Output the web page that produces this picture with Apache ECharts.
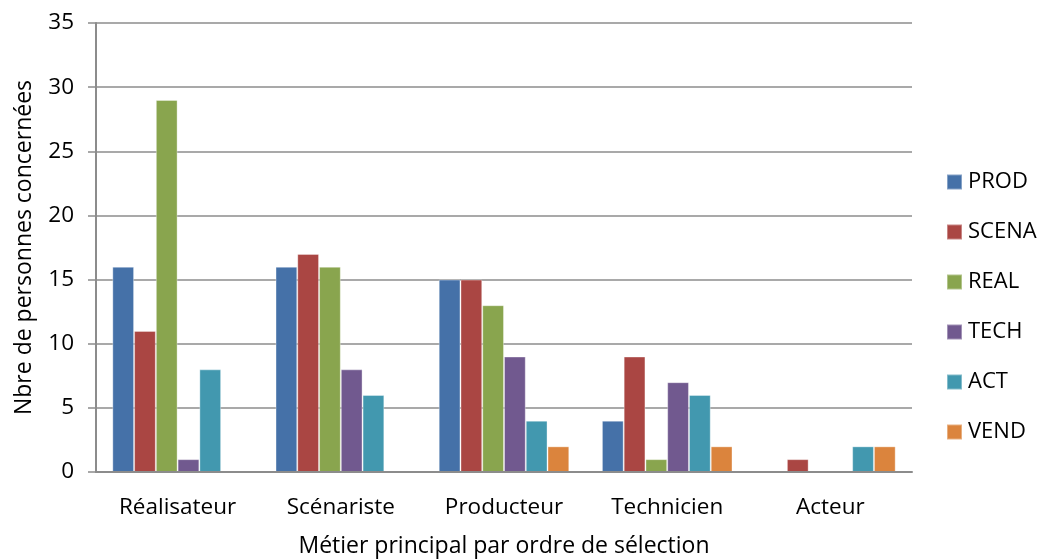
<!DOCTYPE html>
<html><head><meta charset="utf-8">
<script src="https://cdn.jsdelivr.net/npm/echarts@6/dist/echarts.min.js"></script>
<style>html,body{margin:0;padding:0;background:#fff}#c{width:1044px;height:560px}</style>
</head><body><div id="c"></div>
<script>
const categories = ['Réalisateur', 'Scénariste', 'Producteur', 'Technicien', 'Acteur'];
const seriesNames = ['PROD', 'SCENA', 'REAL', 'TECH', 'ACT', 'VEND'];
const PROD  = [16, 16, 15, 4, 0];
const SCENA = [11, 17, 15, 9, 1];
const REAL  = [29, 16, 13, 1, 0];
const TECH  = [1, 8, 9, 7, 0];
const ACT   = [8, 6, 4, 6, 2];
const VEND  = [0, 0, 2, 2, 2];
const yTicks = [0, 5, 10, 15, 20, 25, 30, 35];
const colors = ['#4571A8', '#AA4643', '#89A54E', '#71598F', '#4298AF', '#DB843D'];
const values = [PROD, SCENA, REAL, TECH, ACT, VEND];
const font = '"Open Sans", sans-serif';

const chart = echarts.init(document.getElementById('c'), null, {renderer: 'canvas'});
chart.setOption({
  animation: false,
  textStyle: {fontFamily: font},
  color: colors,
  grid: {left: 96, right: 132, top: 23, bottom: 88, containLabel: false, outerBoundsMode: 'none'},
  legend: {
    orient: 'vertical', left: 946, top: 171, padding: 0,
    itemWidth: 15, itemHeight: 15, itemGap: 28,
    icon: 'rect',
    textStyle: {fontFamily: font, fontSize: 22, color: '#000', padding: [0, 0, 0, 1]},
    data: seriesNames
  },
  xAxis: {
    type: 'category', data: categories, z: 5,
    axisLine: {lineStyle: {color: '#8C8C8C', width: 2}},
    axisTick: {show: false},
    axisLabel: {fontSize: 22.5, color: '#000', margin: 24, fontFamily: font},
    name: 'Métier principal par ordre de sélection',
    nameLocation: 'middle', nameGap: 63,
    nameTextStyle: {fontSize: 23, color: '#000', fontFamily: font}
  },
  yAxis: {
    type: 'value', min: 0, max: 35, interval: 5,
    axisLine: {show: true, lineStyle: {color: '#8C8C8C', width: 2}},
    axisTick: {show: true, length: 8, lineStyle: {color: '#8C8C8C', width: 1.5}},
    splitLine: {lineStyle: {color: '#8C8C8C', width: 1.5}},
    axisLabel: {fontSize: 22.5, color: '#000', margin: 22, fontFamily: font,
      formatter: v => yTicks.includes(v) ? String(v) : ''},
    name: 'Nbre de personnes concernées',
    nameLocation: 'middle', nameGap: 60, nameRotate: 90,
    nameTextStyle: {fontSize: 23, color: '#000', fontFamily: font}
  },
  series: seriesNames.map((n, i) => ({
    name: n, type: 'bar', data: values[i],
    barGap: '0%', barCategoryGap: '20%',
    itemStyle: {color: colors[i], borderColor: 'rgba(255,255,255,0.35)', borderWidth: 1}
  }))
});
</script></body></html>
